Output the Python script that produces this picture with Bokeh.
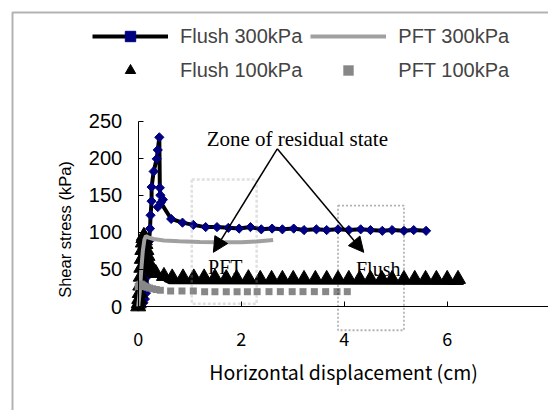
from bokeh.plotting import figure
from bokeh.models import (Range1d, FixedTicker, Legend, LegendItem, Arrow, NormalHead,
                          BoxAnnotation, Label)
from bokeh.embed import file_html
from bokeh.resources import INLINE
import math

# ---------------- data ----------------
flush300_x = [0.00, 0.06, 0.10, 0.13, 0.15, 0.16, 0.17, 0.18, 0.19, 0.21, 0.23, 0.24, 0.26, 0.26,
              0.30, 0.36, 0.38, 0.41, 0.42, 0.43, 0.48, 0.38, 0.44, 0.64, 0.86, 1.07, 1.31, 1.53,
              1.75, 1.96, 2.18, 2.39, 2.60, 2.80, 3.02, 3.22, 3.46, 3.66, 3.88, 4.09, 4.32, 4.51,
              4.74, 4.93, 5.16, 5.35, 5.59]
flush300_y = [0, 2, 5, 10, 18, 28, 40, 55, 70, 88, 105, 123, 142, 161,
              182, 199, 211, 228, 160, 150, 144, 134, 140, 118, 113, 110, 107, 107,
              106, 105, 107, 104, 105, 104, 105, 103, 104, 103, 104, 103, 104, 103,
              102, 103, 102, 103, 102]

flush100_x = [0.00, 0.01, 0.02, 0.03, 0.04, 0.05, 0.06, 0.07, 0.08, 0.09, 0.10, 0.11, 0.12,
              0.13, 0.14, 0.16, 0.18, 0.20, 0.22, 0.25, 0.29, 0.34, 0.50, 0.66, 0.87, 1.08,
              1.28, 1.49, 1.71, 1.91, 2.14, 2.37, 2.59, 2.80, 3.01, 3.22, 3.44, 3.66, 3.88,
              4.09, 4.30, 4.51, 4.73, 4.93, 5.16, 5.37, 5.58, 5.79, 6.00, 6.21]
flush100_y = [0, 4, 10, 18, 28, 40, 52, 64, 76, 86, 92, 95, 93,
              89, 84, 76, 68, 60, 54, 50, 47, 45, 41, 39, 39, 39,
              39, 39, 38, 38, 38, 37, 37, 37, 37, 37, 37, 37, 37,
              37, 37, 37, 37, 37, 37, 37, 37, 37, 37, 37]
flush100_trace_x = [0.00, 0.05, 0.10, 0.15, 0.25, 0.40, 0.60, 6.32]
flush100_trace_y = [0, 40, 92, 80, 52, 40, 32, 31]

pft300_x = [0.00, 0.03, 0.06, 0.09, 0.12, 0.15, 0.20, 0.30, 0.50, 0.80, 1.20, 1.60, 2.00, 2.30, 2.62]
pft300_y = [0, 20, 50, 75, 90, 95, 93, 91, 89, 88, 87, 86.5, 86.5, 87.5, 89.5]

pft100_x = [0.00, 0.02, 0.04, 0.06, 0.08, 0.10, 0.13, 0.17, 0.22, 0.28, 0.35, 0.43, 0.63,
            0.85, 1.07, 1.29, 1.49, 1.71, 1.92, 2.12, 2.31, 2.54, 2.76, 2.99, 3.20, 3.42,
            3.64, 3.86, 4.06]
pft100_y = [27, 29, 30, 30, 29, 28, 27, 26, 25, 24, 23, 22, 21,
            21, 21, 20, 20, 20, 20, 20, 20, 20, 20, 20, 20, 20,
            20, 20, 20]

x_ticks = [0, 2, 4, 6, 8]
y_ticks = [0, 50, 100, 150, 200, 250]
series_names = ["Flush 300kPa", "Flush 100kPa", "PFT 300kPa", "PFT 100kPa"]
x_title = "Horizontal displacement (cm)"
y_title = "Shear stress (kPa)"

# residual-state zones (x0, x1, y0, y1) and annotation texts
pft_zone = (1.04, 2.30, 3.6, 171)
flush_zone = (3.88, 5.16, -32, 136)
note_text = "Zone of residual state"

# ---------------- figure ----------------
W, H = 548, 410
X_ORIGIN_PX, X_SCALE = 137.7, 51.5      # px of x=0, px per cm
Y_ORIGIN_PX, Y_SCALE = 306.0, 0.742     # px of y=0, px per kPa

p = figure(width=W, height=H, output_backend="svg", toolbar_location=None,
           x_range=Range1d(-X_ORIGIN_PX / X_SCALE, (W - X_ORIGIN_PX) / X_SCALE),
           y_range=Range1d(-(H - Y_ORIGIN_PX) / Y_SCALE, Y_ORIGIN_PX / Y_SCALE),
           min_border=0)
p.title.visible = False
p.outline_line_color = None
p.xgrid.visible = False
p.ygrid.visible = False
p.background_fill_color = "white"
p.border_fill_color = "white"

# axes fixed at the data origin
xa = p.xaxis[0]
ya = p.yaxis[0]
xa.fixed_location = 0
ya.fixed_location = 0
xa.bounds = (0, 8)
ya.bounds = (0, 250)
xa.ticker = FixedTicker(ticks=x_ticks)
ya.ticker = FixedTicker(ticks=y_ticks)
for ax in (xa, ya):
    ax.major_tick_in = 5
    ax.major_tick_out = 0
    ax.minor_tick_line_color = None
    ax.axis_line_color = "black"
    ax.major_tick_line_color = "black"
    ax.major_label_text_color = "black"
    ax.axis_label_text_color = "black"
    ax.axis_label_text_font_style = "normal"
xa.axis_label = x_title
xa.axis_label_text_font = "Noto Sans CJK JP"
xa.axis_label_text_font_size = "19.5px"
xa.major_label_text_font = "Noto Sans CJK JP"
xa.major_label_text_font_size = "18px"
xa.major_label_standoff = 25
xa.axis_label_standoff = 8
ya.major_label_text_font = "Liberation Sans"
ya.major_label_text_font_size = "20px"
ya.major_label_standoff = 16

# y-axis title, placed where the reference has it (left of the tick labels)
p.add_layout(Label(x=(64 - X_ORIGIN_PX) / X_SCALE, y=(Y_ORIGIN_PX - 229) / Y_SCALE,
                   text=y_title, angle=math.pi / 2, text_align="center", text_baseline="middle",
                   text_font="Liberation Sans", text_font_size="16.5px", text_color="black"))

# chart border (only left/top visible inside the window)
p.add_layout(BoxAnnotation(left=12, top=12, right=2000, bottom=2000,
                           left_units="canvas", right_units="canvas",
                           top_units="canvas", bottom_units="canvas",
                           fill_color=None, line_color="black", line_width=2))

# series
r_f300_line = p.line(flush300_x, flush300_y, line_color="black", line_width=4)
r_f300_pts = p.scatter(flush300_x, flush300_y, marker="square", angle=math.pi / 4, size=6.5,
                       fill_color="#000080", line_color="#000080")
p.line(flush100_trace_x, flush100_trace_y, line_color="black", line_width=3)
r_f100 = p.scatter(flush100_x, flush100_y, marker="triangle", size=15,
                   fill_color="black", line_color="black")
r_p300 = p.line(pft300_x, pft300_y, line_color="#a0a0a0", line_width=4)
r_p100 = p.scatter(pft100_x, pft100_y, marker="square", size=7,
                   fill_color="#878787", line_color=None)

# residual zones
p.add_layout(BoxAnnotation(left=pft_zone[0], right=pft_zone[1], bottom=pft_zone[2], top=pft_zone[3],
                           fill_color=None, line_color="#999999", line_width=2.5, line_dash="3 2"))
p.add_layout(BoxAnnotation(left=flush_zone[0], right=flush_zone[1], bottom=flush_zone[2], top=flush_zone[3],
                           fill_color=None, line_color="black", line_width=1.8, line_dash="2 2"))

# arrows
for xe in (1.46, 4.38):
    p.add_layout(Arrow(x_start=2.70, y_start=212.5, x_end=xe, y_end=73, line_width=1.5,
                       line_color="black",
                       end=NormalHead(size=15, fill_color="black", line_color="black")))

for (tx, ty, t) in [(3.09, 226, note_text), (1.69, 53, "PFT"), (4.66, 50, "Flush")]:
    p.add_layout(Label(x=tx, y=ty, text=t, text_align="center", text_baseline="alphabetic",
                       text_font="Liberation Serif", text_font_size="21px" if t == note_text else "20px",
                       text_color="black"))

legend = Legend(items=[LegendItem(label=series_names[0], renderers=[r_f300_line, r_f300_pts]),
                       LegendItem(label=series_names[1], renderers=[r_f100]),
                       LegendItem(label=series_names[2], renderers=[r_p300]),
                       LegendItem(label=series_names[3], renderers=[r_p100])],
                location=(92, 327), ncols=2, orientation="vertical",
                glyph_width=76, glyph_height=26, label_height=26, label_standoff=12,
                spacing=8, padding=0, margin=0,
                border_line_color=None, background_fill_alpha=0,
                label_text_font="Liberation Sans", label_text_font_size="20px")
p.add_layout(legend)

open("out.html", "w").write(file_html(p, INLINE))
